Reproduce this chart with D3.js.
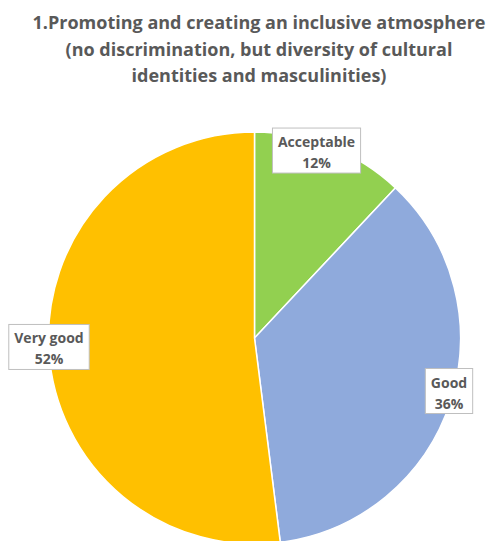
<!DOCTYPE html>
<html>
<head>
<meta charset="utf-8">
<script src="https://cdn.jsdelivr.net/npm/d3@7"></script>
<style>
  html, body { margin: 0; padding: 0; background: #fff; }
  svg { display: block; }
</style>
</head>
<body>
<div id="chart"></div>
<script>
// chart data
var titleLines = [
  '1.Promoting and creating an inclusive atmosphere',
  '(no discrimination, but diversity of cultural',
  'identities and masculinities)'
];
var categories = ['Acceptable', 'Good', 'Very good'];
var values = [12, 36, 52];
var colors = ['#92D050', '#8FAADC', '#FFC000'];

var width = 491,
    height = 541,
    cx = 254.5,
    cy = 338,
    radius = 206;

var svg = d3.select('#chart').append('svg')
  .attr('width', width)
  .attr('height', height);

// title
svg.append('g').selectAll('text')
  .data(titleLines)
  .enter()
  .append('text')
  .attr('x', 259)
  .attr('y', function (d, i) { return 29 + i * 26.5; })
  .attr('text-anchor', 'middle')
  .style('font-family', '"Open Sans", sans-serif')
  .style('font-weight', 'bold')
  .style('font-size', '18px')
  .style('fill', '#595959')
  .text(function (d) { return d; });

var pie = d3.pie().sort(null).value(function (d) { return d; });
var arcs = pie(values);

var arc = d3.arc().innerRadius(0).outerRadius(radius);

var g = svg.append('g').attr('transform', 'translate(' + cx + ',' + cy + ')');

g.selectAll('path')
  .data(arcs)
  .enter()
  .append('path')
  .attr('d', arc)
  .attr('fill', function (d, i) { return colors[i]; })
  .attr('stroke', '#fff')
  .attr('stroke-width', 1.5);

// data labels, placed near the rim along each slice's mid angle
var labelRadius = 200;
var labelNudge = [[-11.6, -1.5], [4.3, -8.8], [-5.9, -3.6]];

var labels = g.selectAll('g.label')
  .data(arcs)
  .enter()
  .append('g')
  .attr('class', 'label')
  .attr('transform', function (d, i) {
    var a = (d.startAngle + d.endAngle) / 2;
    var x = Math.sin(a) * labelRadius + labelNudge[i][0];
    var y = -Math.cos(a) * labelRadius + labelNudge[i][1];
    return 'translate(' + x + ',' + y + ')';
  });

labels.each(function (d, i) {
  var lg = d3.select(this);
  var t = lg.append('text')
    .attr('text-anchor', 'middle')
    .style('font-family', '"Open Sans", sans-serif')
    .style('font-weight', 'bold')
    .style('font-size', '14px')
    .style('fill', '#595959');
  t.append('tspan').attr('x', 0).attr('y', -3.5).text(categories[i]);
  t.append('tspan').attr('x', 0).attr('y', 17.5).text(values[i] + '%');
  var bb = t.node().getBBox();
  lg.insert('rect', 'text')
    .attr('x', bb.x - 5.5)
    .attr('y', -22.5)
    .attr('width', bb.width + 11)
    .attr('height', 45)
    .attr('fill', '#fff')
    .attr('stroke', '#BFBFBF')
    .attr('stroke-width', 1);
});
</script>
</body>
</html>
